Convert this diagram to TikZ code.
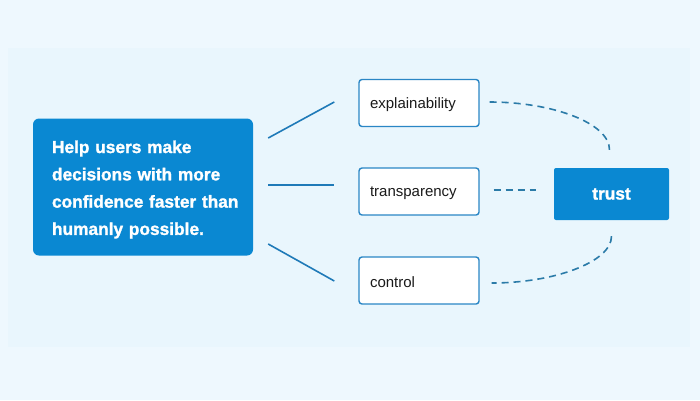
\documentclass[tikz,border=0pt]{standalone}
\usepackage{fontspec}
\setmainfont{Liberation Sans}
\newfontfamily\heavyfont[FakeBold=1.4]{Liberation Sans Bold}
\usetikzlibrary{calc}
\definecolor{bgouter}{HTML}{EEF8FE}
\definecolor{bginner}{HTML}{E9F6FD}
\definecolor{mainblue}{HTML}{0A88D2}
\definecolor{borderblue}{HTML}{2A86C5}
\definecolor{linkblue}{HTML}{1F7AB8}
\definecolor{dashblue}{HTML}{2B7BA8}
\definecolor{txt}{HTML}{1A1A1A}
\newcommand{\lowerby}[2]{\raisebox{-#1}[\height][\depth]{#2}}
\tikzset{
  mainbox/.style={fill=mainblue, rounded corners=6pt, text=white,
    font=\fontsize{17.3pt}{27.3pt}\heavyfont\selectfont,
    text width=182pt, align=left, inner xsep=19pt, inner ysep=0pt,
    minimum width=220pt, minimum height=137pt},
  itembox/.style={draw=borderblue, line width=1.4pt, fill=white, rounded corners=3pt,
    text=txt, font=\fontsize{15pt}{18pt}\selectfont,
    text width=98pt, align=left, inner xsep=11pt, inner ysep=0pt,
    minimum width=120pt, minimum height=47pt},
  trustbox/.style={fill=mainblue, rounded corners=2pt, text=white,
    font=\fontsize{17.3pt}{20pt}\heavyfont\selectfont,
    minimum width=115pt, minimum height=52pt, inner sep=0pt},
  link/.style={draw=linkblue, line width=1.6pt},
  dlink/.style={draw=dashblue, line width=1.6pt, dash pattern=on 7pt off 5pt}
}
\begin{document}
\begin{tikzpicture}[x=1pt,y=-1pt]
\fill[bgouter] (0,0) rectangle (700,400);
\fill[bginner] (8,48) rectangle (690,347);
\useasboundingbox (0,0) rectangle (700,400);

\node[mainbox] (main) at (143,187) {\lowerby{2.5pt}{\parbox{182pt}{\raggedright Help users make\\decisions with more\\confidence~faster~than\\humanly possible.}}};
\node[itembox] (expl) at (419,103) {\lowerby{2pt}{explainability}};
\node[itembox] (trans) at (419,191.5) {\lowerby{2pt}{transparency}};
\node[itembox] (ctrl) at (419,280.5) {\lowerby{2pt}{control}};
\node[trustbox] (trust) at (611.5,194) {trust};

\draw[link] ($(main.east)+(15,-49)$) -- ($(expl.west)+(-24,-1)$);
\draw[link] ($(main.east)+(15,-2)$) -- ($(trans.west)+(-24,-6.5)$);
\draw[link] ($(main.east)+(15,57)$) -- ($(ctrl.west)+(-24,0.5)$);

\draw[dlink] ($(expl.east)+(10,-1)$) .. controls +(62,0) and +(0,-27) .. ($(trust.north)+(-2,-18)$);
\draw[dlink] ($(trans.east)+(14,-1.5)$) -- ($(trust.west)+(-18,-4)$);
\draw[dlink] ($(trust.south)+(0,16)$) .. controls +(0,26) and +(62,0) .. ($(ctrl.east)+(12,2.5)$);
\end{tikzpicture}
\end{document}
